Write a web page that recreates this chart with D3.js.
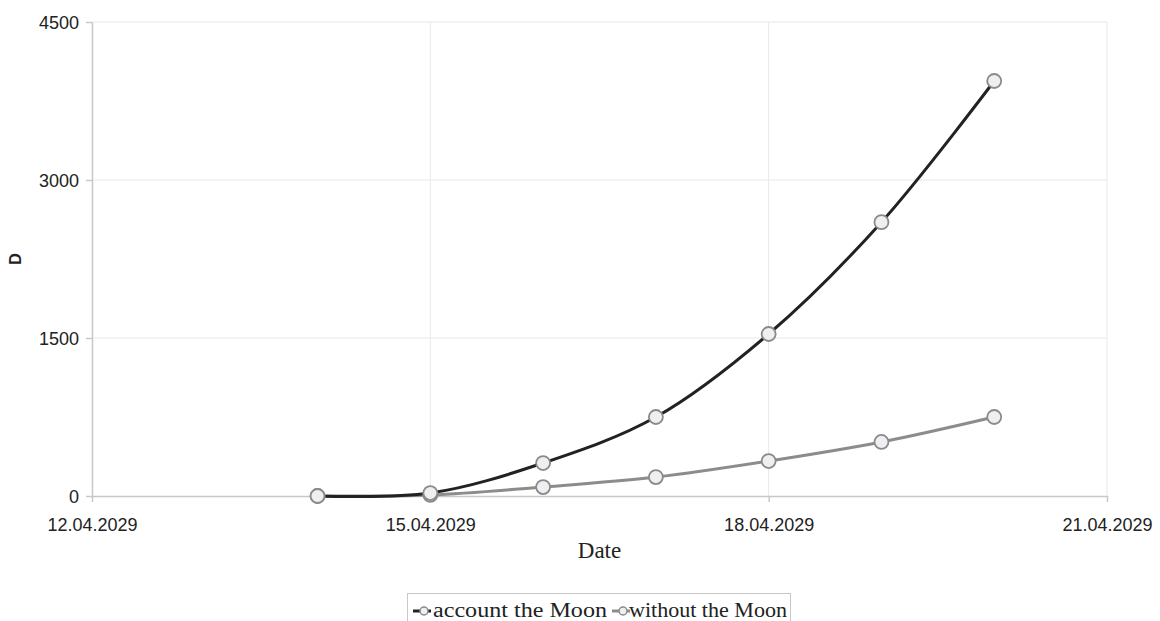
<!DOCTYPE html>
<html>
<head>
<meta charset="utf-8">
<script src="https://cdn.jsdelivr.net/npm/d3@7"></script>
<style>
  body { margin: 0; background: #fff; }
  svg { display: block; }
</style>
</head>
<body>
<svg id="chart" width="1160" height="621"></svg>
<script>
// data
const dates = ["14.04.2029", "15.04.2029", "16.04.2029", "17.04.2029", "18.04.2029", "19.04.2029", "20.04.2029"];
const withMoon = [0, 28, 313, 750, 1538, 2600, 3940];
const withoutMoon = [0, 10, 85, 180, 332, 513, 750];
const xTicks = ["12.04.2029", "15.04.2029", "18.04.2029", "21.04.2029"];
const yTicks = [0, 1500, 3000, 4500];
const seriesNames = ["account the Moon", "without the Moon"];
const seriesColors = ["#222222", "#8c8c8c"];

const parse = d3.timeParse("%d.%m.%Y");
const fmt = d3.timeFormat("%d.%m.%Y");

const margin = {left: 92, right: 53, top: 22, bottom: 125};
const width = 1160, height = 621;

const svg = d3.select("#chart");

const x = d3.scaleTime()
  .domain([parse(xTicks[0]), parse(xTicks[xTicks.length - 1])])
  .range([margin.left, width - margin.right]);
const y = d3.scaleLinear()
  .domain([0, 4500])
  .range([height - margin.bottom, margin.top]);

// grid
svg.append("g").selectAll("line.gx").data(xTicks.slice(1)).enter().append("line")
  .attr("x1", d => x(parse(d))).attr("x2", d => x(parse(d)))
  .attr("y1", y(4500)).attr("y2", y(0))
  .attr("stroke", "#e8e8e8").attr("stroke-width", 1);
svg.append("g").selectAll("line.gy").data(yTicks.slice(1)).enter().append("line")
  .attr("x1", x.range()[0]).attr("x2", x.range()[1])
  .attr("y1", d => y(d)).attr("y2", d => y(d))
  .attr("stroke", "#e8e8e8").attr("stroke-width", 1);

// axes
const xAxis = svg.append("g")
  .attr("transform", "translate(0," + y(0) + ")")
  .call(d3.axisBottom(x).tickValues(xTicks.map(parse)).tickFormat(fmt).tickSize(6).tickSizeOuter(0));
const yAxis = svg.append("g")
  .attr("transform", "translate(" + x.range()[0] + ",0)")
  .call(d3.axisLeft(y).tickValues(yTicks).tickFormat(d3.format("d")).tickSize(6).tickSizeOuter(0));

[xAxis, yAxis].forEach(a => {
  a.select(".domain").attr("stroke", "#c8c8c8").attr("stroke-width", 1.5);
  a.selectAll(".tick line").attr("stroke", "#c8c8c8").attr("stroke-width", 1.5);
  a.selectAll(".tick text").attr("fill", "#222").attr("font-family", "Liberation Sans, Arial, sans-serif").attr("font-size", 18);
});
xAxis.selectAll(".tick text").attr("y", 35).attr("dy", 0);
yAxis.selectAll(".tick text").attr("x", -13).attr("dy", "0.35em");

// axis titles
svg.append("text")
  .attr("x", (x.range()[0] + x.range()[1]) / 2).attr("y", 558)
  .attr("text-anchor", "middle")
  .attr("font-family", "Liberation Serif, Times New Roman, serif").attr("font-size", 23)
  .attr("fill", "#222").text("Date");
svg.append("text")
  .attr("transform", "translate(21," + ((y(0) + y(4500)) / 2) + ") rotate(-90)")
  .attr("text-anchor", "middle")
  .attr("font-family", "Liberation Sans, Arial, sans-serif").attr("font-size", 16).attr("font-weight", "bold")
  .attr("fill", "#222").text("D");

// series
const series = [withMoon, withoutMoon];
const line = d3.line()
  .x((d, i) => x(parse(dates[i])))
  .y(d => y(d))
  .curve(d3.curveCatmullRom.alpha(0.5));

// draw gray first so the black line sits above
[1, 0].forEach(s => {
  svg.append("path").datum(series[s])
    .attr("d", line)
    .attr("fill", "none").attr("stroke", seriesColors[s]).attr("stroke-width", 3);
});
[1, 0].forEach(s => {
  svg.append("g").selectAll("circle").data(series[s]).enter().append("circle")
    .attr("cx", (d, i) => x(parse(dates[i])))
    .attr("cy", d => y(d))
    .attr("r", 7)
    .attr("fill", "#eeeff2").attr("stroke", "#8a8a8a").attr("stroke-width", 1.8);
});

// legend
const lg = svg.append("g");
lg.append("rect").attr("x", 407.5).attr("y", 593.5).attr("width", 383).attr("height", 40)
  .attr("fill", "#fff").attr("stroke", "#c8c8c8").attr("stroke-width", 1);
const legendItems = [{x: 413, tx: 433, w: 174}, {x: 612, tx: 629, w: 158}];
legendItems.forEach((it, s) => {
  lg.append("line").attr("x1", it.x).attr("x2", it.x + 18).attr("y1", 611).attr("y2", 611)
    .attr("stroke", seriesColors[s]).attr("stroke-width", 3);
  lg.append("circle").attr("cx", it.x + 11).attr("cy", 611).attr("r", 4)
    .attr("fill", "#eeeff2").attr("stroke", "#8a8a8a").attr("stroke-width", 1.5);
  lg.append("text").attr("x", it.tx).attr("y", 617)
    .attr("font-family", "Liberation Serif, Times New Roman, serif").attr("font-size", 20)
    .attr("textLength", it.w).attr("lengthAdjust", "spacingAndGlyphs")
    .attr("fill", "#222").text(seriesNames[s]);
});
</script>
</body>
</html>
